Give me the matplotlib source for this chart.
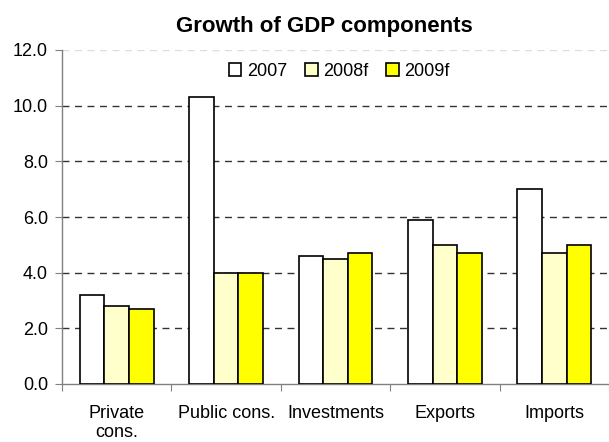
import matplotlib
matplotlib.use("Agg")
import matplotlib.pyplot as plt
import numpy as np

categories = ["Private\ncons.", "Public cons.", "Investments", "Exports", "Imports"]
series_names = ["2007", "2008f", "2009f"]
values_2007 = [3.2, 10.3, 4.6, 5.9, 7.0]
values_2008f = [2.8, 4.0, 4.5, 5.0, 4.7]
values_2009f = [2.7, 4.0, 4.7, 4.7, 5.0]
y_ticks = [0.0, 2.0, 4.0, 6.0, 8.0, 10.0, 12.0]

colors = ["#FFFFFF", "#FFFFCC", "#FFFF00"]

plt.rcParams["font.family"] = ["Liberation Sans", "DejaVu Sans"]

fig = plt.figure(figsize=(6.09, 4.42), dpi=100)
ax = fig.add_axes([62 / 609, 1 - 384 / 442, 547 / 609, 334 / 442])

x = np.arange(len(categories))
width = 0.225
all_series = [values_2007, values_2008f, values_2009f]
for i, (vals, name, col) in enumerate(zip(all_series, series_names, colors)):
    ax.bar(x + (i - 1) * width, vals, width, color=col, edgecolor="black",
           linewidth=1.2, label=name, zorder=3)

ax.set_xlim(-0.5, len(categories) - 0.5)
ax.set_ylim(0, 12)
ax.set_yticks(y_ticks)
ax.set_yticklabels([f"{t:.1f}" for t in y_ticks], fontsize=13)

# dashed horizontal gridlines
for t in y_ticks[1:-1]:
    ax.axhline(t, color="#333333", linestyle=(0, (5, 4)), linewidth=1.0, zorder=1)
ax.axhline(12, color="#DDDDDD", linestyle=(0, (5, 4)), linewidth=1.0, zorder=1)

# category boundaries as major ticks, names as minor ticks
ax.set_xticks(np.arange(-0.5, len(categories) + 0.5, 1.0))
ax.set_xticklabels([])
ax.set_xticks(x, minor=True)
ax.set_xticklabels(categories, minor=True, fontsize=13)
ax.tick_params(axis="x", which="minor", length=0, pad=15)
ax.tick_params(axis="x", which="major", length=5, color="#808080", direction="out")
ax.tick_params(axis="y", length=5, color="#808080", direction="out", pad=5)

for s in ["top", "right"]:
    ax.spines[s].set_visible(False)
for s in ["left", "bottom"]:
    ax.spines[s].set_color("#808080")
    ax.spines[s].set_linewidth(1.0)

fig.text(0.532, 0.94, "Growth of GDP components", ha="center", va="center",
         fontsize=16, fontweight="bold")

ax.legend(loc="center", bbox_to_anchor=(0.557, 0.838), bbox_transform=fig.transFigure,
          ncol=3, frameon=False, fontsize=13, handlelength=0.7, handleheight=0.7,
          handletextpad=0.3, columnspacing=1.0, borderaxespad=0)

fig.savefig("out.png", dpi=100)
